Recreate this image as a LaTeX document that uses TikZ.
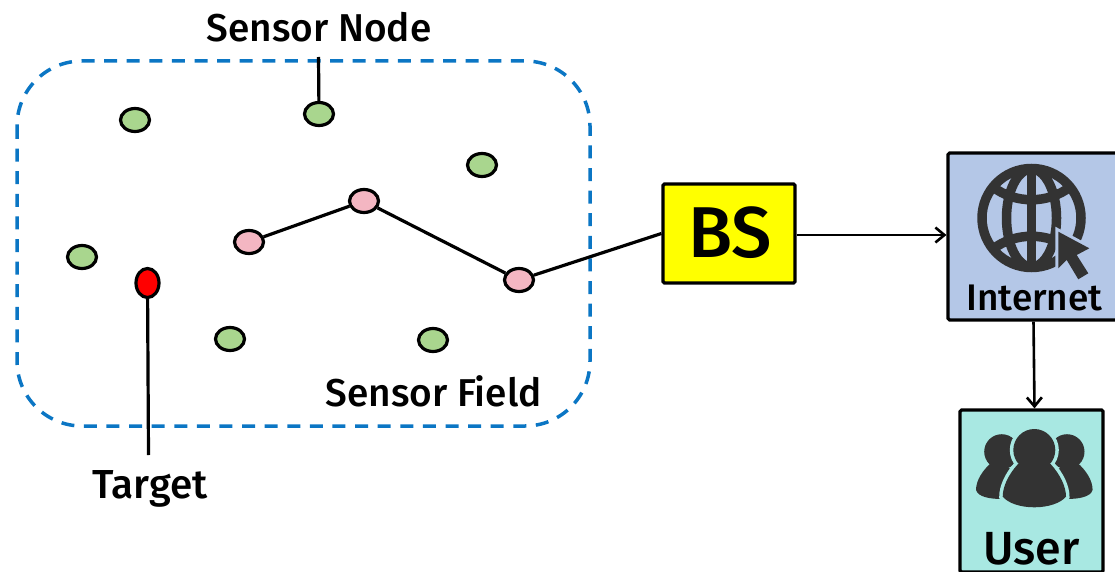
\documentclass[tikz,border=0pt]{standalone}
\usepackage{fontspec}
\setmainfont{Fira Sans Medium}
\usetikzlibrary{shapes.geometric,arrows.meta}
\definecolor{dashblue}{HTML}{0B76C4}
\definecolor{sgreen}{HTML}{A9D68E}
\definecolor{spink}{HTML}{F4B6C2}
\definecolor{inetfill}{HTML}{B4C7E7}
\definecolor{userfill}{HTML}{A8E8E2}
\definecolor{icondark}{HTML}{333333}
\definecolor{bsyellow}{HTML}{FFFF00}
\tikzset{
  x=1pt,y=-1pt,
  sensor/.style={ellipse,draw=black,line width=3.2pt,minimum width=29pt,minimum height=23pt,inner sep=0pt},
  greennode/.style={sensor,fill=sgreen},
  pinknode/.style={sensor,fill=spink},
  targetnode/.style={sensor,fill=red,minimum width=23pt,minimum height=29pt},
  lbl/.style={inner sep=0pt,font=\fontsize{38.8}{42}\selectfont},
  boxnode/.style={draw=black,line width=3.2pt,rounded corners=1.5pt,inner sep=0pt},
  link/.style={draw=black,line width=3.2pt},
  arrowlink/.style={link,line width=2.6pt,-{Straight Barb[length=9pt,width=15pt,line width=2.6pt]}},
}
\begin{document}
\begin{tikzpicture}
\useasboundingbox (0,0) rectangle (1115,572);
% sensor field
\draw[dashblue,line width=3.5pt,dash pattern=on 13pt off 9.6pt,rounded corners=65pt] (17,61) rectangle (590,426);
% sensors
\node[greennode] (g1) at (135,120) {};
\node[greennode] (g2) at (319,114) {};
\node[greennode] (g3) at (482,165) {};
\node[greennode] (g4) at (82,257) {};
\node[greennode] (g5) at (230,339) {};
\node[greennode] (g6) at (433,340) {};
\node[pinknode] (p1) at (249,242) {};
\node[pinknode] (p2) at (364,201) {};
\node[pinknode] (p3) at (519,280) {};
\node[targetnode] (t) at (147.5,283) {};
% boxes
\node[boxnode,fill=bsyellow,minimum width=132pt,minimum height=99pt] (bs) at (729,233.5) {};
\node[boxnode,fill=inetfill,minimum width=170pt,minimum height=167pt] (inet) at (1033,236.5) {};
\node[boxnode,fill=userfill,minimum width=143pt,minimum height=162pt] (user) at (1031.5,491) {};
% labels
\node[lbl] (lsn) at (319,27) {Sensor Node};
\node[lbl] (lsf) at (433.5,391.5) {Sensor Field};
\node[inner sep=0pt,font=\fontsize{40.5}{44}\selectfont] (ltg) at (150,488.5) {Target};
\node[inner sep=0pt,font=\fontsize{72}{80}\selectfont] (lbs) at (730,233) {BS};
\node[inner sep=0pt,font=\fontsize{37}{40}\selectfont] (lin) at (1034.5,298) {Internet};
\node[inner sep=0pt,font=\fontsize{46.5}{50}\selectfont] (lus) at (1031.5,549) {User};
\coordinate (csn) at (318.5,57);
\coordinate (ctg) at (148.5,455);
% connectors
\draw[link] (csn) -- (g2);
\draw[link] (t) -- (ctg);
\draw[link] (p1) -- (p2);
\draw[link] (p2) -- (p3);
\draw[link] (p3) -- (bs.west);
\draw[arrowlink] ([yshift=-1.5pt]bs.east) -- ([yshift=1.5pt]inet.west);
\draw[arrowlink] (inet.south -| 1033.5,0) -- (user.north -| 1034.5,0);
% globe icon
\begin{scope}[icondark,line width=9.5pt]
\draw (1031.5,218) circle[radius=49.5];
\draw (1031.5,218) ellipse[x radius=25,y radius=49];
\draw (1031.5,169) -- (1031.5,267);
\draw (993,187) .. controls (1015,204) and (1048,204) .. (1070,187);
\draw (993,249) .. controls (1015,232) and (1048,232) .. (1070,249);
\end{scope}
\fill[inetfill,draw=inetfill,line width=6pt,line join=miter] (1058.3,231.7) -- (1089.3,248.3) -- (1076.7,255) -- (1088.3,273.3) -- (1078.3,279.3) -- (1066.7,260) -- (1058.3,268.3) -- cycle;
\fill[icondark] (1058.3,231.7) -- (1089.3,248.3) -- (1076.7,255) -- (1088.3,273.3) -- (1078.3,279.3) -- (1066.7,260) -- (1058.3,268.3) -- cycle;
% users icon
\fill[icondark] (1001.7,451.7) circle[radius=17.5];
\fill[icondark] (991,463) .. controls (983,470) and (976,480) .. (976,490) .. controls (978,497) and (990,499) .. (1002,499) -- (1015,470) -- cycle;
\fill[icondark] (1067,451.7) circle[radius=17.5];
\fill[icondark] (1077.6,463) .. controls (1085.6,470) and (1092.6,480) .. (1092.6,490) .. controls (1090.6,497) and (1078.6,499) .. (1066.6,499) -- (1053.6,470) -- cycle;
\path[draw=userfill,fill=userfill,line width=7pt] (1034.3,450) circle[radius=21];
\path[draw=userfill,fill=userfill,line width=7pt] (1018,464) .. controls (1008,475) and (1002.7,487) .. (1002.7,496.7) .. controls (1008,503) and (1020,507.3) .. (1034.3,507.3) .. controls (1048.6,507.3) and (1060.6,503) .. (1066,496.7) .. controls (1066,487) and (1060.6,475) .. (1050.6,464) -- cycle;
\fill[icondark] (1034.3,450) circle[radius=21];
\fill[icondark] (1018,464) .. controls (1008,475) and (1002.7,487) .. (1002.7,496.7) .. controls (1008,503) and (1020,507.3) .. (1034.3,507.3) .. controls (1048.6,507.3) and (1060.6,503) .. (1066,496.7) .. controls (1066,487) and (1060.6,475) .. (1050.6,464) -- cycle;
\end{tikzpicture}
\end{document}
